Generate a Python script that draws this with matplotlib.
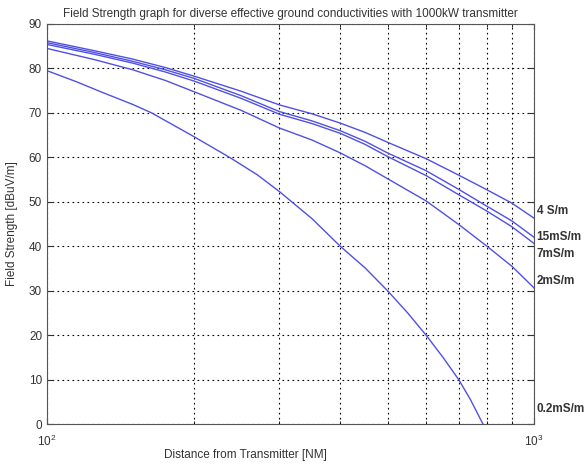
import matplotlib
matplotlib.use("Agg")
import matplotlib.pyplot as plt
from matplotlib.ticker import LogLocator, NullFormatter, FixedLocator

plt.rcParams['font.family'] = ['Liberation Sans', 'DejaVu Sans']

title = "Field Strength graph for diverse effective ground conductivities with 1000kW transmitter"
xlabel = "Distance from Transmitter [NM]"
ylabel = "Field Strength [dBuV/m]"

dist = [100, 125, 150, 175, 200, 250, 300, 350, 400, 450, 500, 600, 700, 800, 900, 1000]
fs_4S = [86.2, 84.0, 82.1, 80.2, 78.3, 74.9, 71.8, 69.8, 67.7, 65.6, 63.4, 59.7, 56.0, 52.7, 49.7, 46.3]
fs_15mS = [85.8, 83.6, 81.6, 79.7, 77.8, 73.9, 70.3, 68.2, 66.0, 63.6, 61.0, 57.0, 52.8, 49.0, 45.7, 42.0]
fs_7mS = [85.4, 83.2, 81.2, 79.2, 77.2, 73.3, 69.7, 67.6, 65.4, 62.9, 60.2, 55.9, 51.6, 47.9, 44.4, 40.6]
fs_2mS = [84.5, 82.0, 79.7, 77.3, 74.8, 70.6, 66.6, 63.9, 61.0, 58.1, 55.2, 50.2, 44.9, 40.0, 35.5, 30.6]
dist_02 = [100, 115, 130, 150, 164, 200, 237, 270, 300, 350, 400, 450, 500, 550, 600, 650, 700, 740, 785]
fs_02mS = [79.5, 77.0, 74.6, 71.9, 70.0, 64.7, 60.0, 56.1, 52.3, 46.2, 40.0, 35.1, 30.0, 25.0, 20.0, 15.0, 10.0, 5.5, 0.0]

labels = ["4 S/m", "15mS/m", "7mS/m", "2mS/m", "0.2mS/m"]
label_y = [47.9, 42.0, 38.3, 32.2, 3.4]

color = '#5050e4'

fig = plt.figure(figsize=(5.87, 4.66), dpi=100)
ax = fig.add_axes([0.080, 0.090, 0.830, 0.8585])

for s in [fs_4S, fs_15mS, fs_7mS, fs_2mS]:
    ax.plot(dist, s, color=color, lw=1.0)
ax.plot(dist_02, fs_02mS, color=color, lw=1.0)

ax.set_xscale('log')
ax.set_xlim(100, 1000)
ax.set_ylim(0, 90)
ax.yaxis.set_major_locator(FixedLocator(range(0, 91, 10)))
ax.xaxis.set_minor_locator(LogLocator(base=10, subs=range(2, 10)))
ax.xaxis.set_minor_formatter(NullFormatter())

ax.grid(True, which='major', axis='both', linestyle=(0, (1.5, 3)), color='black', lw=0.8)
ax.grid(True, which='minor', axis='x', linestyle=(0, (1.5, 3)), color='black', lw=0.8)

ax.tick_params(direction='in', labelsize=8.5, colors='#333333', length=4)
ax.tick_params(axis='x', pad=7)
ax.tick_params(which='minor', direction='in', length=2)
ax.tick_params(top=True, right=True, which='both')
for sp in ax.spines.values():
    sp.set_color('#555555')

ax.set_title(title, fontsize=8.5, color='#333333', pad=5)
ax.set_xlabel(xlabel, fontsize=8.5, color='#333333')
ax.xaxis.set_label_coords(0.407, -0.062)
ax.set_ylabel(ylabel, fontsize=8.5, color='#333333', labelpad=8)

for lab, yv in zip(labels, label_y):
    ax.text(1.005, yv / 90.0, lab, transform=ax.transAxes, fontsize=8.5,
            fontweight='bold', color='#333333', va='center', ha='left')

fig.savefig('out.png', dpi=100)
